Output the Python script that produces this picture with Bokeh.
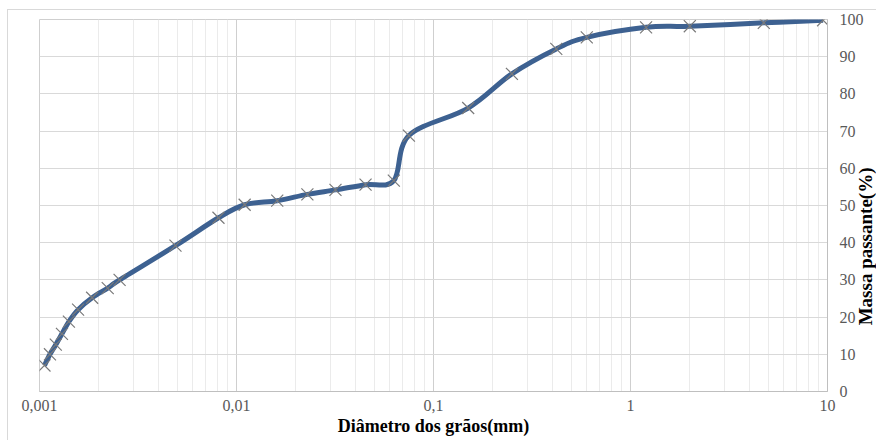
import math
from bokeh.plotting import figure
from bokeh.models import Range1d, FixedTicker, CustomJSTickFormatter, Label
from bokeh.embed import file_html
from bokeh.resources import INLINE

# ---- data ----
diametro_mm = [0.00106, 0.00113, 0.00121, 0.00130, 0.00141, 0.00157, 0.00185,
               0.00222, 0.00255, 0.0049, 0.0081, 0.0110, 0.0161, 0.0229,
               0.0318, 0.0452, 0.0629, 0.075, 0.15, 0.25, 0.42, 0.6, 1.2,
               2.0, 4.75, 9.5]
passante_pct = [7.0, 10.0, 12.6, 15.5, 18.8, 22.0, 25.2, 27.8, 30.0, 39.2,
                46.7, 50.2, 51.3, 53.0, 54.2, 55.6, 56.7, 68.8, 76.2, 85.4,
                92.1, 95.2, 97.9, 98.2, 99.1, 99.8]
x_ticks = [0.001, 0.01, 0.1, 1, 10]
y_ticks = [0, 10, 20, 30, 40, 50, 60, 70, 80, 90, 100]
x_title = "Diâmetro dos grãos(mm)"
y_title = "Massa passante(%)"

SERIF = "Liberation Serif"
LINE_COLOR = "#3d6191"

p = figure(width=869, height=431, x_axis_type="log", y_axis_location="right",
           x_range=Range1d(0.001, 10), y_range=Range1d(0, 100),
           output_backend="svg", toolbar_location=None,
           min_border_left=31, min_border_top=9, min_border_right=50,
           min_border_bottom=50, margin=(9, 0, 0, 7))
p.styles = {"border-left": "1px solid #d9d9d9", "border-top": "1px solid #d9d9d9"}
p.background_fill_color = "white"
p.border_fill_color = "white"
p.outline_line_color = "#cfcfcf"

# axes
minor = [m * 10 ** e for e in range(-3, 1) for m in range(2, 10)]
p.xaxis.ticker = FixedTicker(ticks=x_ticks, minor_ticks=minor)
p.xaxis.formatter = CustomJSTickFormatter(code="return tick.toString().replace('.', ',');")
p.yaxis.ticker = FixedTicker(ticks=y_ticks)
for ax in (p.xaxis, p.yaxis):
    ax.major_tick_out = 0
    ax.major_tick_in = 0
    ax.minor_tick_out = 0
    ax.minor_tick_in = 0
    ax.axis_line_color = "#bfbfbf"
    ax.major_label_text_font = SERIF
    ax.major_label_text_font_size = "16px"
    ax.major_label_text_color = "#595959"
p.xaxis.major_label_standoff = 8
p.yaxis.major_label_standoff = 12
p.xaxis.axis_label = x_title
p.xaxis.axis_label_standoff = 2
p.xaxis.axis_label_text_font = SERIF
p.xaxis.axis_label_text_font_style = "bold"
p.xaxis.axis_label_text_font_size = "18px"
p.xaxis.axis_label_text_color = "#000000"

# grids
p.xgrid.grid_line_color = "#cfcfcf"
p.xgrid.minor_grid_line_color = "#ebebeb"
p.ygrid.grid_line_color = "#d9d9d9"

# smooth curve (Catmull-Rom Bezier through the data in log-x space)
lx = [math.log10(v) for v in diametro_mm]
ly = passante_pct
n = len(lx)
x0, y0, x1, y1, cx0, cy0, cx1, cy1 = [], [], [], [], [], [], [], []
for i in range(n - 1):
    a = max(i - 1, 0)
    d = min(i + 2, n - 1)
    x0.append(diametro_mm[i]); y0.append(ly[i])
    x1.append(diametro_mm[i + 1]); y1.append(ly[i + 1])
    cx0.append(10 ** (lx[i] + (lx[i + 1] - lx[a]) / 6)); cy0.append(ly[i] + (ly[i + 1] - ly[a]) / 6)
    cx1.append(10 ** (lx[i + 1] - (lx[d] - lx[i]) / 6)); cy1.append(ly[i + 1] - (ly[d] - ly[i]) / 6)
p.bezier(x0=x0, y0=y0, x1=x1, y1=y1, cx0=cx0, cy0=cy0, cx1=cx1, cy1=cy1,
         line_color=LINE_COLOR, line_width=5)
p.scatter(diametro_mm, passante_pct, marker="x", size=17,
          line_color="#7a7a7a", line_width=1.2)

# right-hand axis title (held in the roomy left panel so it is not clipped and
# does not shrink the plot frame; positioned by the frame's scales)
lab_x = 10 ** (1 + 38 / 197.0)
p.add_layout(Label(x=lab_x, y=39, text=y_title, angle=math.pi / 2,
                   text_align="center", text_baseline="middle",
                   text_font=SERIF, text_font_style="bold",
                   text_font_size="19px", text_color="#000000"), "left")

open("out.html", "w").write(file_html(p, INLINE))
